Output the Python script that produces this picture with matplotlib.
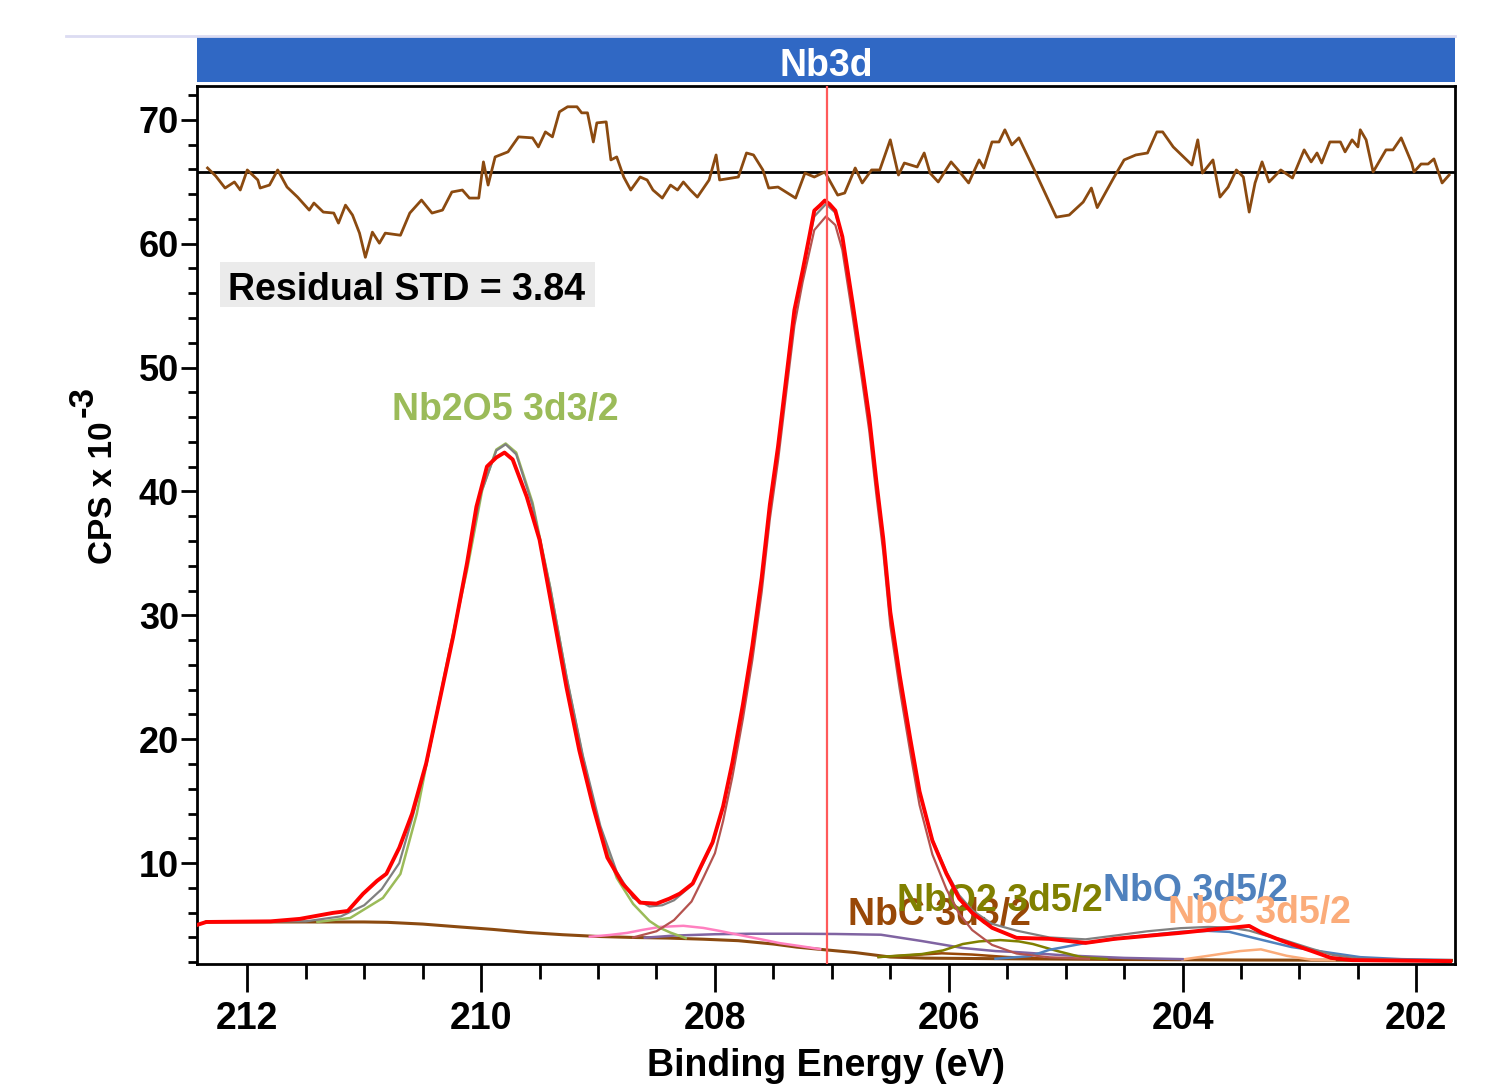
import matplotlib
matplotlib.use("Agg")
import matplotlib.pyplot as plt
from matplotlib.patches import Rectangle
from matplotlib.lines import Line2D
from matplotlib.ticker import MultipleLocator

plt.rcParams['font.family'] = ['Liberation Sans', 'DejaVu Sans']
plt.rcParams['font.weight'] = 'bold'

# raw spectrum (CPS x 1e-3)
data_e = [212.43, 212.35, 211.80, 211.55, 211.27, 211.14, 211.01, 210.89, 210.81, 210.70,
          210.59, 210.47, 210.36, 210.24, 210.12, 210.04, 209.95, 209.87, 209.80, 209.73,
          209.61, 209.50, 209.39, 209.27, 209.16, 209.04, 208.92, 208.79, 208.64, 208.50,
          208.39, 208.30, 208.19, 208.10, 208.02, 207.93, 207.85, 207.76, 207.68, 207.60,
          207.53, 207.46, 207.39, 207.32, 207.25, 207.19, 207.15, 207.10, 207.06, 207.02,
          206.97, 206.91, 206.82, 206.74, 206.68, 206.62, 206.56, 206.50, 206.42, 206.33,
          206.25, 206.14, 206.02, 205.91, 205.80, 205.63, 205.42, 205.14, 204.83, 204.58,
          204.30, 204.02, 203.70, 203.60, 203.43, 203.32, 203.15, 202.90, 202.73, 202.55,
          201.71]
data_v = [5.01, 5.25, 5.30, 5.50, 5.98, 6.14, 7.52, 8.57, 9.14, 11.24,
          14.00, 18.05, 22.91, 28.25, 34.24, 38.77, 42.01, 42.74, 43.14, 42.58,
          39.58, 36.10, 30.43, 24.20, 19.10, 14.50, 10.45, 8.34, 6.81, 6.73,
          7.13, 7.54, 8.35, 10.13, 11.67, 14.58, 18.14, 22.83, 27.53, 33.04,
          38.95, 43.64, 49.15, 54.65, 57.81, 60.70, 62.67, 63.10, 63.48, 63.20,
          62.67, 60.56, 55.06, 49.96, 45.99, 40.89, 36.19, 30.28, 25.18, 20.08,
          15.79, 11.82, 9.15, 7.13, 5.99, 4.78, 3.97, 3.89, 3.56, 3.89,
          4.13, 4.37, 4.69, 4.77, 4.93, 4.37, 3.73, 2.92, 2.35, 2.17,
          2.09]

# fit envelope
env_e = [212.35, 211.50, 211.20, 211.00, 210.85, 210.70, 210.59, 210.47, 210.36, 210.24,
         210.12, 210.00, 209.87, 209.79, 209.70, 209.56, 209.41, 209.27, 209.13, 208.98,
         208.84, 208.70, 208.56, 208.45, 208.35, 208.20, 208.10, 208.02, 207.93, 207.85,
         207.76, 207.68, 207.60, 207.53, 207.46, 207.39, 207.32, 207.25, 207.15, 207.05,
         206.97, 206.91, 206.82, 206.74, 206.68, 206.62, 206.56, 206.50, 206.42, 206.33,
         206.25, 206.14, 206.02, 205.91, 205.80, 205.63, 205.42, 205.14, 204.83, 204.58,
         204.30, 204.02, 203.78, 203.60, 203.43, 203.25, 203.15, 202.90, 202.72, 202.50,
         202.13, 201.71]
env_v = [5.25, 5.30, 5.70, 6.60, 7.90, 10.00, 13.60, 17.90, 22.90, 28.40,
         34.20, 39.90, 43.30, 43.80, 43.00, 38.90, 32.30, 25.10, 18.70, 13.00,
         9.30, 7.20, 6.50, 6.60, 7.00, 8.20, 10.00, 11.60, 14.50, 18.00,
         22.70, 27.40, 32.90, 38.80, 43.50, 49.00, 54.40, 57.80, 62.20, 63.20,
         62.50, 60.50, 55.00, 49.90, 45.90, 40.80, 36.10, 30.20, 25.10, 20.00,
         15.80, 11.90, 9.30, 7.40, 6.20, 5.10, 4.55, 4.00, 3.85, 4.15,
         4.50, 4.75, 4.85, 4.80, 4.55, 4.05, 3.85, 3.10, 2.60, 2.30,
         2.20, 2.15]

# Shirley background
bg_e = [212.35, 211.00, 210.80, 210.50, 210.20, 209.90, 209.60, 209.30, 209.00, 208.70,
        208.40, 208.10, 207.80, 207.50, 207.30, 207.10, 206.80, 206.50, 206.20, 205.50,
        204.50, 203.50, 202.50, 201.70]
bg_v = [5.25, 5.25, 5.22, 5.08, 4.86, 4.65, 4.40, 4.22, 4.08, 4.00,
        3.95, 3.86, 3.74, 3.47, 3.22, 3.04, 2.78, 2.42, 2.33, 2.28,
        2.22, 2.18, 2.16, 2.15]

# components
nb2o5_52_e = [208.70, 208.50, 208.35, 208.20, 208.10, 208.00, 207.93, 207.85, 207.76, 207.68,
              207.60, 207.53, 207.46, 207.39, 207.32, 207.25, 207.15, 207.05, 206.97, 206.91,
              206.82, 206.74, 206.68, 206.62, 206.56, 206.50, 206.42, 206.33, 206.25, 206.14,
              206.02, 205.91, 205.80, 205.63, 205.42, 205.14, 204.80]
nb2o5_52_v = [4.00, 4.50, 5.40, 6.90, 8.80, 10.80, 13.40, 17.00, 21.70, 26.40,
              31.90, 37.80, 42.50, 48.00, 53.40, 56.90, 61.10, 62.20, 61.50, 59.50,
              54.00, 48.90, 44.90, 39.80, 35.10, 29.20, 24.10, 19.00, 14.70, 10.70,
              7.90, 5.90, 4.60, 3.40, 2.70, 2.40, 2.28]

nb2o5_32_e = [211.40, 211.12, 210.84, 210.69, 210.55, 210.41, 210.27, 210.12, 209.99, 209.87,
              209.79, 209.70, 209.56, 209.41, 209.27, 209.13, 208.98, 208.84, 208.70, 208.56,
              208.47, 208.38, 208.25]
nb2o5_32_v = [5.25, 5.57, 7.19, 9.13, 13.99, 20.71, 27.19, 33.66, 40.14, 43.38,
              43.87, 43.14, 39.09, 32.29, 25.00, 18.52, 12.61, 8.81, 6.71, 5.33,
              4.77, 4.39, 3.95]

nbo2_52_e = [206.60, 206.23, 206.05, 205.88, 205.74, 205.56, 205.40, 205.28, 205.07, 204.86, 204.65]
nbo2_52_v = [2.42, 2.66, 2.95, 3.47, 3.68, 3.79, 3.68, 3.47, 2.90, 2.40, 2.25]

nbo2_32_e = [209.07, 208.90, 208.75, 208.62, 208.47, 208.27, 208.10, 207.96, 207.79, 207.62,
             207.45, 207.27, 207.10]
nbo2_32_v = [4.06, 4.20, 4.37, 4.61, 4.85, 4.94, 4.77, 4.53, 4.20, 3.88,
             3.55, 3.30, 3.06]

nbo_52_e = [205.60, 205.30, 205.14, 204.83, 204.44, 204.02, 203.78, 203.60, 203.39, 203.07,
            202.72, 202.48, 202.13, 201.71]
nbo_52_v = [2.28, 2.50, 3.00, 3.55, 4.04, 4.45, 4.53, 4.45, 3.96, 3.23,
            2.74, 2.41, 2.25, 2.17]

nbo_32_e = [208.60, 208.35, 208.00, 207.70, 207.30, 206.97, 206.58, 206.23, 205.88, 205.60,
            205.42, 205.00, 204.50, 204.00]
nbo_32_v = [3.98, 4.15, 4.26, 4.30, 4.30, 4.28, 4.22, 3.71, 3.15, 2.90,
            2.82, 2.55, 2.35, 2.25]

nbc_52_e = [204.00, 203.78, 203.51, 203.33, 203.11, 202.90, 202.70]
nbc_52_v = [2.22, 2.52, 2.90, 3.04, 2.52, 2.20, 2.17]

nbc_32_e = [206.60, 206.30, 206.06, 205.80, 205.50, 205.20]
nbc_32_v = [2.42, 2.58, 2.72, 2.62, 2.42, 2.30]

# residual (deviation, plotted around its own zero line)
res_zero = 65.81
res_e = [212.34, 212.27, 212.19, 212.11, 212.06, 212.00, 211.91, 211.89, 211.81, 211.74,
         211.66, 211.57, 211.47, 211.43, 211.35, 211.26, 211.22, 211.16, 211.10, 211.04,
         210.99, 210.93, 210.87, 210.82, 210.69, 210.61, 210.51, 210.42, 210.33, 210.25,
         210.16, 210.10, 210.02, 209.98, 209.94, 209.88, 209.77, 209.68, 209.56, 209.51,
         209.45, 209.39, 209.33, 209.26, 209.18, 209.14, 209.09, 209.04, 209.01, 208.93,
         208.89, 208.84, 208.78, 208.72, 208.64, 208.58, 208.53, 208.45, 208.38, 208.32,
         208.27, 208.21, 208.15, 208.05, 207.99, 207.96, 207.80, 207.73, 207.67, 207.59,
         207.54, 207.46, 207.31, 207.23, 207.15, 207.06, 206.95, 206.89, 206.80, 206.74,
         206.66, 206.59, 206.50, 206.43, 206.38, 206.27, 206.21, 206.16, 206.09, 205.98,
         205.92, 205.83, 205.74, 205.70, 205.63, 205.57, 205.52, 205.46, 205.40, 205.26,
         205.08, 204.97, 204.85, 204.78, 204.73, 204.59, 204.50, 204.40, 204.30, 204.22,
         204.17, 204.08, 203.92, 203.87, 203.83, 203.74, 203.68, 203.61, 203.54, 203.48,
         203.43, 203.38, 203.32, 203.26, 203.16, 203.06, 202.96, 202.90, 202.85, 202.81,
         202.74, 202.65, 202.61, 202.55, 202.50, 202.48, 202.43, 202.37, 202.26, 202.20,
         202.13, 202.04, 202.02, 201.96, 201.90, 201.85, 201.78, 201.72]
res_v = [0.30, -0.35, -1.32, -0.83, -1.48, 0.14, -0.67, -1.32, -1.08, 0.14,
         -1.24, -2.05, -3.10, -2.53, -3.26, -3.34, -4.15, -2.70, -3.50, -4.96,
         -6.91, -4.88, -5.77, -4.96, -5.13, -3.34, -2.29, -3.34, -3.10, -1.64,
         -1.48, -2.13, -2.13, 0.79, -1.08, 1.19, 1.60, 2.81, 2.73, 2.00,
         3.21, 2.81, 4.83, 5.24, 5.24, 4.75, 4.75, 2.40, 3.94, 4.02,
         0.95, 1.19, -0.43, -1.48, -0.43, -0.67, -1.48, -2.13, -1.08, -1.48,
         -0.83, -1.48, -2.05, -0.67, 1.35, -0.67, -0.43, 1.51, 1.35, 0.14,
         -1.32, -1.24, -2.13, -0.11, -0.43, -0.02, -1.89, -1.72, 0.30, -0.91,
         0.14, 0.14, 2.57, -0.27, 0.70, 0.38, 1.51, -0.11, -0.83, 0.79,
         0.14, -0.91, 0.95, 0.30, 2.40, 2.40, 3.38, 2.16, 2.73, -0.02,
         -3.67, -3.50, -2.45, -1.32, -2.90, -0.51, 0.95, 1.35, 1.51, 3.21,
         3.21, 2.00, 0.54, 2.57, -0.11, 0.95, -2.05, -1.24, 0.14, -0.43,
         -3.26, -0.91, 0.79, -0.83, 0.14, -0.51, 1.76, 0.79, 1.51, 0.70,
         2.40, 2.40, 1.60, 2.57, 2.00, 3.38, 2.57, -0.02, 1.76, 1.76,
         2.73, 0.70, -0.02, 0.62, 0.62, 1.03, -0.91, -0.27]

peak_pos = 207.04

fig = plt.figure(figsize=(14.88, 10.88), dpi=100)
ax = fig.add_axes([0.1324, 0.1140, 0.8454, 0.8070])

# component labels
lab_kw = dict(fontsize=27, fontweight='bold', ha='center', va='baseline', zorder=1)
ax.text(209.79, 45.8, "Nb2O5 3d3/2", color='#9bbb59', **lab_kw)
ax.text(206.08, 5.0, "NbC 3d3/2", color='#984807', **lab_kw)
ax.text(205.56, 6.15, "NbO2 3d5/2", color='#808000', **lab_kw)
ax.text(203.89, 6.95, "NbO 3d5/2", color='#4f81bd', **lab_kw)
ax.text(203.34, 5.18, "NbC 3d5/2", color='#fbac7a', **lab_kw)

ax.plot(bg_e, bg_v, color='#8b4a10', lw=2.2, zorder=3)
ax.plot(nbc_32_e, nbc_32_v, color='#984807', lw=1.8, zorder=3)
ax.plot(nbc_52_e, nbc_52_v, color='#fbac7a', lw=1.8, zorder=3)
ax.plot(nbo_32_e, nbo_32_v, color='#8064a2', lw=1.8, zorder=3)
ax.plot(nbo2_32_e, nbo2_32_v, color='#ff80c0', lw=1.8, zorder=3)
ax.plot(nbo2_52_e, nbo2_52_v, color='#808000', lw=1.8, zorder=3)
ax.plot(nbo_52_e, nbo_52_v, color='#4f81bd', lw=1.8, zorder=3)
ax.plot(nb2o5_32_e, nb2o5_32_v, color='#9bbb59', lw=1.8, zorder=3)
ax.plot(nb2o5_52_e, nb2o5_52_v, color='#b5534f', lw=1.6, zorder=3)
ax.plot(env_e, env_v, color='#808080', lw=1.6, zorder=4)
ax.plot(data_e, data_v, color='#ff0000', lw=2.8, zorder=5)

# residual
ax.axhline(res_zero, color='black', lw=2, zorder=6)
ax.plot(res_e, [res_zero + r for r in res_v], color='#8b4a10', lw=2, zorder=7)

ax.axvline(peak_pos, color='#ff5a5a', lw=1.6, zorder=8)

fig.add_artist(Rectangle((0.1478, 0.7178), 0.2520, 0.0414, transform=fig.transFigure,
                         facecolor='#ebebeb', edgecolor='none', zorder=1))
t = fig.text(0.2735, 0.7243, "Residual STD = 3.84", fontsize=27, fontweight='bold',
             ha='center', va='baseline', color='black')
t.set_zorder(2)

ax.set_xlim(212.43, 201.67)
ax.set_ylim(1.86, 72.73)
ax.xaxis.set_major_locator(MultipleLocator(2))
ax.xaxis.set_minor_locator(MultipleLocator(0.5))
ax.yaxis.set_minor_locator(MultipleLocator(2))
ax.set_yticks([10, 20, 30, 40, 50, 60, 70])

ax.tick_params(axis='x', which='major', direction='out', length=20, width=2, labelsize=27, pad=7)
ax.tick_params(axis='x', which='minor', direction='out', length=11, width=2)
ax.tick_params(axis='y', which='major', direction='out', length=11.5, width=2, labelsize=26, pad=1.5)
ax.tick_params(axis='y', which='minor', direction='out', length=6.5, width=2)
for s in ax.spines.values():
    s.set_linewidth(2)

ax.set_xlabel("Binding Energy (eV)", fontsize=27, fontweight='bold', va='center')
ax.xaxis.set_label_coords(0.5, -0.116)
# y label with a full-size raised exponent
fig.text(103.5 / 1488, 1 - 493 / 1088, "CPS x 10", fontsize=24, fontweight='bold',
         rotation=90, ha='center', va='center')
fig.text(83 / 1488, 1 - 401 / 1088, "-3", fontsize=25, fontweight='bold',
         rotation=90, ha='center', va='center')

# header bar
fig.add_artist(Line2D([0.0444, 0.9778], [0.9669, 0.9669], color='#dcdcf2', lw=2))
fig.add_artist(Rectangle((0.1324, 0.9246), 0.8454, 0.0414, transform=fig.transFigure,
                         facecolor='#3068c4', edgecolor='none'))
fig.text(0.5551, 1 - 76 / 1088, "Nb3d", color='white', fontsize=27, fontweight='bold',
         ha='center', va='baseline')

fig.savefig("out.png", dpi=100)
